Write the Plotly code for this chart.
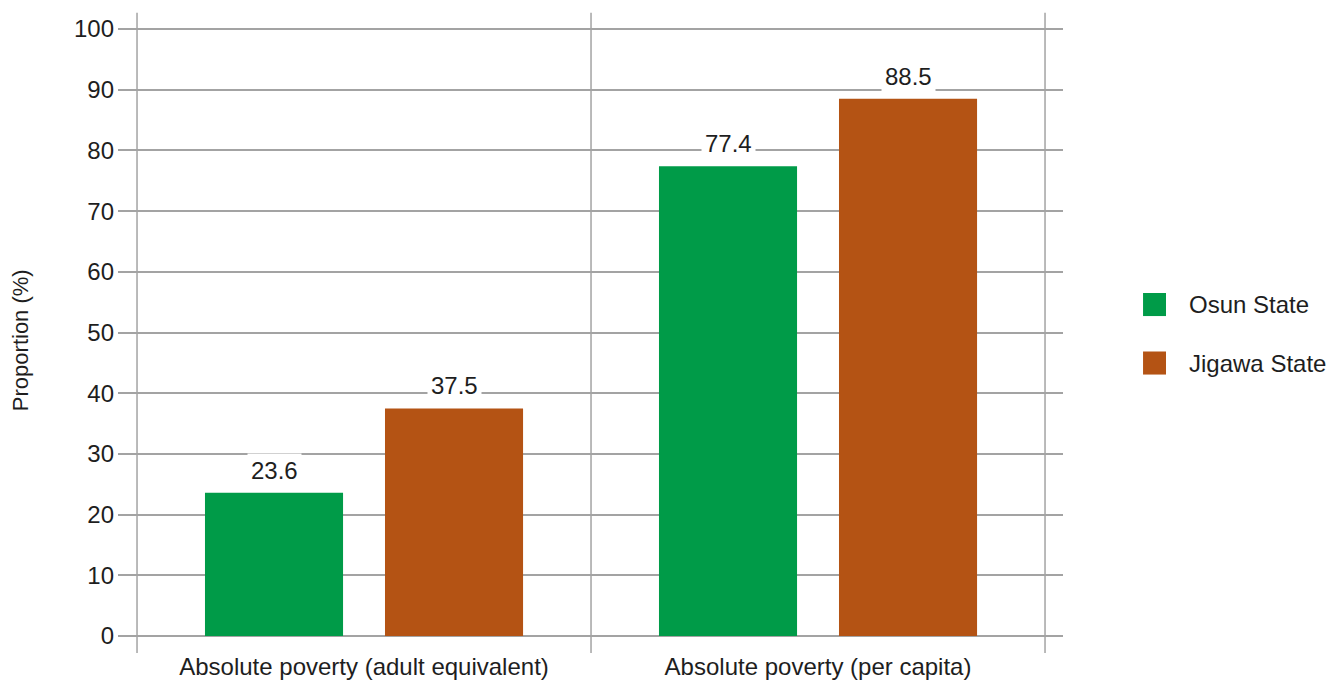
import plotly.graph_objects as go

categories = ["Absolute poverty (adult equivalent)", "Absolute poverty (per capita)"]
series_names = ["Osun State", "Jigawa State"]
osun_values = [23.6, 77.4]
jigawa_values = [37.5, 88.5]
y_ticks = [0, 10, 20, 30, 40, 50, 60, 70, 80, 90, 100]

colors = ["rgb(0,155,72)", "rgb(180,83,20)"]
values = [osun_values, jigawa_values]

BARGAP = 0.207
BARGROUPGAP = 0.233
FONT = "Liberation Sans, Arial, sans-serif"
TXT = "#1e1e1e"
GRID = "#a3a3a3"

fig = go.Figure()
for name, vals, col in zip(series_names, values, colors):
    fig.add_trace(go.Bar(x=categories, y=vals, name=name, marker=dict(color=col, line=dict(width=0)),
                         showlegend=False))

# data labels with white background (hide gridlines)
slot = (1 - BARGAP) / len(series_names)
for si, vals in enumerate(values):
    off = -((1 - BARGAP) / 2) + slot * (si + 0.5)
    for ci, v in enumerate(vals):
        fig.add_annotation(x=ci + off, y=v, xref="x", yref="y", text=f"{v}", showarrow=False,
                           yanchor="bottom", yshift=5, bgcolor="white", borderpad=3,
                           font=dict(family=FONT, size=24, color=TXT))

# vertical separators
for xv in [-0.5, 0.5, 1.5]:
    fig.add_shape(type="line", xref="x", yref="paper", x0=xv, x1=xv, y0=-0.0279, y1=1.0218,
                  line=dict(color=GRID, width=1.5), layer="below")

# custom legend
leg_y = [0.5434, 0.4475]
for name, col, yc in zip(series_names, colors, leg_y):
    fig.add_shape(type="rect", xref="paper", yref="paper", x0=1.0847, x1=1.109,
                  y0=yc - 0.0189, y1=yc + 0.0189, fillcolor=col, line=dict(width=0))
    fig.add_annotation(xref="paper", yref="paper", x=1.1312, y=yc, text=name, showarrow=False,
                       xanchor="left", yanchor="middle", font=dict(family=FONT, size=24, color=TXT))

# y axis title
fig.add_annotation(xref="paper", yref="paper", x=(20 - 118) / 945, y=0.485, text="Proportion (%)",
                   textangle=-90, showarrow=False, xanchor="center", yanchor="middle",
                   font=dict(family=FONT, size=22, color=TXT))

fig.update_layout(
    width=1332, height=676,
    margin=dict(l=110, r=277, t=18, b=48, autoexpand=False),
    paper_bgcolor="white", plot_bgcolor="white",
    barmode="group", bargap=BARGAP, bargroupgap=BARGROUPGAP,
    font=dict(family=FONT, color=TXT),
    xaxis=dict(type="category", range=[-0.5419, 1.5396], showgrid=False, showline=False, automargin=False,
               ticks="", ticklabelstandoff=14, tickfont=dict(size=24, color=TXT), fixedrange=True),
    yaxis=dict(range=[0, 100.5], tickvals=y_ticks, showgrid=True, gridcolor=GRID, gridwidth=1.5,
               zeroline=True, zerolinecolor=GRID, zerolinewidth=1.5, showline=False, ticks="", automargin=False,
               ticklabelstandoff=3, tickfont=dict(size=24, color=TXT)),
    showlegend=False,
)

fig.write_html("out.html")
